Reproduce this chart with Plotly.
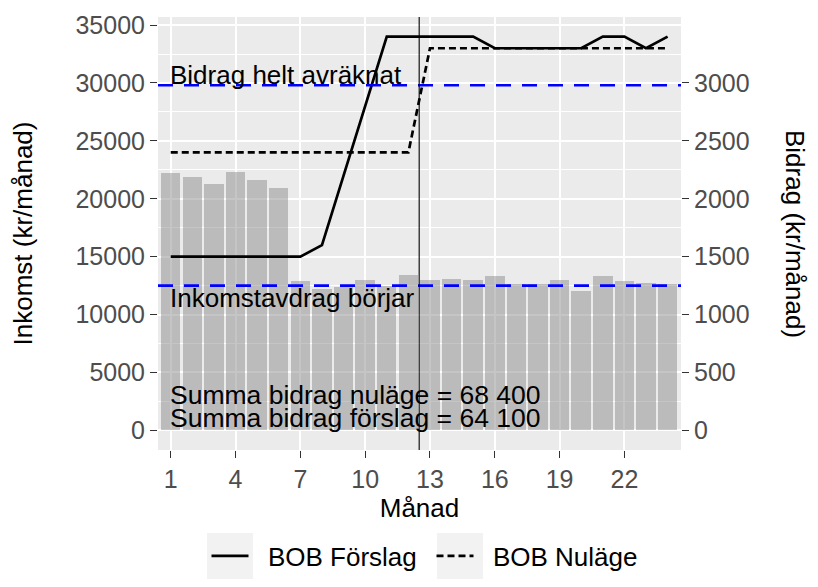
import plotly.graph_objects as go

# ---- data ----
months = list(range(1, 25))
inkomst = [22200, 21900, 21300, 22300, 21600, 20900, 12900, 12200, 12400, 13000, 12500, 13400,
           13000, 13100, 12950, 13300, 12600, 12600, 12950, 12000, 13300, 12900, 12750, 12600]
bob_forslag = [1500, 1500, 1500, 1500, 1500, 1500, 1500, 1600, 2200, 2800, 3400, 3400,
               3400, 3400, 3400, 3300, 3300, 3300, 3300, 3300, 3400, 3400, 3300, 3400]
bob_nulage = [2400] * 12 + [3300] * 12
grans_avraknat = 29800
grans_inkomstavdrag = 12500
brytpunkt = 12.5
x_ticks = [1, 4, 7, 10, 13, 16, 19, 22]
y_ticks = list(range(0, 35001, 5000))
y_ticktext = [str(v) for v in y_ticks]
y_minor = list(range(2500, 35000, 5000))
y2_ticks = list(range(0, 3001, 500))
y2_ticktext = [str(v) for v in y2_ticks]
summa_nulage = "Summa bidrag nuläge = 68 400"
summa_forslag = "Summa bidrag förslag = 64 100"

FONT = "Liberation Sans, Arial, sans-serif"
TICKC = "#4D4D4D"

# figure geometry (page has an 8px body margin)
W, H = 802, 571
L, R, T, B = 150, 129, 9, 129
PW = W - L - R
PH = H - T - B


def px_x(x):
    return (x - L) / PW


def px_y(y):
    return (H - B - y) / PH


fig = go.Figure()
fig.add_trace(go.Bar(x=months, y=inkomst, width=0.9,
                     marker=dict(color="rgba(140,140,140,0.5)", line=dict(width=0)),
                     showlegend=False, hoverinfo="skip"))
fig.add_trace(go.Scatter(x=months, y=bob_forslag, yaxis="y2", mode="lines",
                         name="\u00a0\u00a0BOB Förslag", line=dict(color="black", width=2.7)))
fig.add_trace(go.Scatter(x=months, y=bob_nulage, yaxis="y2", mode="lines",
                         name="\u00a0\u00a0BOB Nuläge", line=dict(color="black", width=2.7, dash="7px,4px")))

for yv in (grans_avraknat, grans_inkomstavdrag):
    fig.add_shape(type="line", xref="x domain", yref="y", x0=0, x1=1, y0=yv, y1=yv,
                  line=dict(color="#0000FF", width=2.6, dash="15px,11px"))
fig.add_shape(type="line", xref="x", yref="y domain", x0=brytpunkt, x1=brytpunkt, y0=0, y1=1,
              line=dict(color="black", width=1.1))

# legend key backgrounds (ggplot style)
for bx in (199, 429):
    fig.add_shape(type="rect", xref="paper", yref="paper", layer="below",
                  x0=px_x(bx), x1=px_x(bx + 46), y0=px_y(525), y1=px_y(571),
                  fillcolor="#F2F2F2", line=dict(width=0))

ann_font = dict(family=FONT, size=26, color="black")
fig.add_annotation(x=1, y=30650, xref="x", yref="y", text="Bidrag helt avräknat",
                   showarrow=False, xanchor="left", yanchor="middle", font=ann_font, xshift=-3)
fig.add_annotation(x=1, y=11450, xref="x", yref="y", text="Inkomstavdrag börjar",
                   showarrow=False, xanchor="left", yanchor="middle", font=ann_font, xshift=-3)
fig.add_annotation(x=1, y=3050, xref="x", yref="y", text=summa_nulage,
                   showarrow=False, xanchor="left", yanchor="middle",
                   font=dict(family=FONT, size=26.5, color="black"), xshift=-3)
fig.add_annotation(x=1, y=1100, xref="x", yref="y", text=summa_forslag,
                   showarrow=False, xanchor="left", yanchor="middle",
                   font=dict(family=FONT, size=26.5, color="black"), xshift=-3)
fig.add_annotation(x=px_x(787), y=px_y(226), xref="paper", yref="paper", text="Bidrag (kr/månad)",
                   showarrow=False, textangle=90, xanchor="center", yanchor="middle",
                   font=dict(family=FONT, size=26, color="black"))

fig.update_layout(
    width=W, height=H,
    margin=dict(l=L, r=R, t=T, b=B, autoexpand=False),
    paper_bgcolor="white", plot_bgcolor="#EBEBEB",
    font=dict(family=FONT, size=25, color="black"),
    bargap=0,
    xaxis=dict(range=[0.41, 24.62], tickvals=x_ticks, ticks="outside", ticklen=7,
               tickwidth=1.2, tickcolor="#333333", showgrid=True, gridcolor="white",
               gridwidth=2, zeroline=False, showline=False, automargin=False,
               tickfont=dict(size=25, color=TICKC),
               title=dict(text="Månad", font=dict(size=26, color="black"), standoff=6)),
    yaxis=dict(range=[-1700, 35700], tickvals=y_ticks, ticktext=y_ticktext, ticks="outside",
               ticklen=7, tickwidth=1.2, tickcolor="#333333", showgrid=True, gridcolor="white",
               gridwidth=2, zeroline=False, showline=False, automargin=False,
               tickfont=dict(size=25, color=TICKC),
               minor=dict(tickvals=y_minor, showgrid=True, gridcolor="white", gridwidth=1, ticks=""),
               title=dict(text="Inkomst (kr/månad)", font=dict(size=26, color="black"), standoff=37)),
    yaxis2=dict(range=[-170, 3570], tickvals=y2_ticks, ticktext=y2_ticktext, overlaying="y",
                side="right", ticks="outside", ticklen=7, tickwidth=1.2, tickcolor="#333333",
                showgrid=False, zeroline=False, showline=False, automargin=False,
                tickfont=dict(size=25, color=TICKC)),
    legend=dict(orientation="h", x=px_x(198.5), xanchor="left", y=px_y(548), yanchor="middle",
                itemwidth=37, entrywidth=173, entrywidthmode="pixels",
                font=dict(size=26, color="black"), bgcolor="rgba(0,0,0,0)"),
)
fig.write_html("out.html")
